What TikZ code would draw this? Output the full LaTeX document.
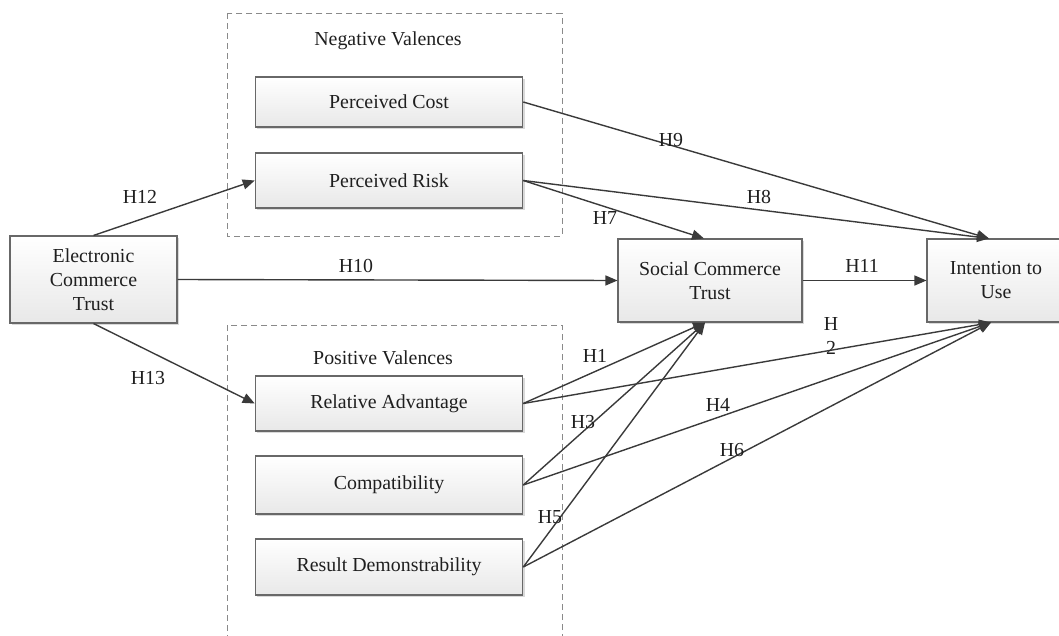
\documentclass[tikz,border=0pt]{standalone}
\usepackage{fontspec}
\setmainfont{Liberation Serif}
\usetikzlibrary{arrows.meta,shadows,calc}
\definecolor{linec}{HTML}{3A3A3A}
\definecolor{boxline}{HTML}{686868}
\definecolor{dashc}{HTML}{8A8A8A}
\tikzset{
  vbox/.style={draw=boxline, line width=0.8pt, top color=white, bottom color=black!9,
    drop shadow={shadow xshift=1.5pt, shadow yshift=-1.5pt, fill=black!25, opacity=0.6},
    align=center, inner sep=0pt, font=\fontsize{14.9}{18}\selectfont, text=black!88},
  grp/.style={draw=dashc, line width=0.6pt, dash pattern=on 4.5pt off 3pt},
  conn/.style={draw=linec, line width=1.05pt, -{Triangle[length=9pt,width=7.5pt]}},
  lbl/.style={inner sep=0pt, font=\fontsize{14.9}{18}\selectfont, text=black!88},
}
\begin{document}
\begin{tikzpicture}[x=0.75pt,y=-0.75pt]
\useasboundingbox (0,0) rectangle (1059,635);
\clip (0,0) rectangle (1059,635);
% group frames
\draw[grp] (227,13.3) rectangle (562,236);
\draw[grp] (227,325) rectangle (562,645);
\node[lbl] (neg) at (388,41) {Negative Valences};
\node[lbl] (pos) at (383,358) {Positive Valences};
% boxes
\node[vbox, minimum width=200.6pt, minimum height=37.5pt] (pc) at (389,102) {Perceived Cost};
\node[vbox, minimum width=200.6pt, minimum height=41.25pt] (pr) at (389,180.5) {Perceived Risk};
\node[vbox, minimum width=200.6pt, minimum height=41.25pt] (ra) at (389,403.5) {Relative Advantage};
\node[vbox, minimum width=200.6pt, minimum height=43.5pt] (co) at (389,485) {Compatibility};
\node[vbox, minimum width=200.6pt, minimum height=42pt] (rd) at (389,567) {Result Demonstrability};
\node[vbox, minimum width=125.25pt, minimum height=65.25pt] (ect) at (93.5,279.5) {Electronic\\Commerce\\Trust};
\node[vbox, minimum width=138pt, minimum height=62.25pt] (sct) at (710,280.5) {Social Commerce\\Trust};
\node[vbox, minimum width=103.5pt, minimum height=62.25pt] (itu) at (996,280.5) {Intention to\\Use};
% anchor points
\coordinate (sctT) at ($(sct.north)+(-6,0)$);
\coordinate (sctB) at ($(sct.south)+(-5,0)$);
\coordinate (ituT) at ($(itu.north)+(-7,0)$);
\coordinate (ituB) at ($(itu.south)+(-5,0)$);
% connectors
\draw[conn] (ect.north) -- (pr.west);
\draw[conn] (ect.south) -- (ra.west);
\draw[conn] (ect.east) -- (sct.west);
\draw[conn] (pc.east) -- (ituT);
\draw[conn] (pr.east) -- (ituT);
\draw[conn] (pr.east) -- (sctT);
\draw[conn] (sct.east) -- (itu.west);
\draw[conn] (ra.east) -- (sctB);
\draw[conn] (ra.east) -- (ituB);
\draw[conn] (co.east) -- (sctB);
\draw[conn] (co.east) -- (ituB);
\draw[conn] (rd.east) -- (sctB);
\draw[conn] (rd.east) -- (ituB);
% labels
\node[lbl] (h12) at (140,197) {H12};
\node[lbl] (h13) at (148,378) {H13};
\node[lbl] (h10) at (356,266) {H10};
\node[lbl] (h9) at (671,140) {H9};
\node[lbl] (h8) at (759,197) {H8};
\node[lbl] (h7) at (605,218) {H7};
\node[lbl] (h11) at (862,266) {H11};
\node[lbl] (h1) at (595,356) {H1};
\node[lbl, align=center, font=\fontsize{14.9}{18.5}\selectfont] (h2) at (831,336) {H\\2};
\node[lbl] (h3) at (583,422) {H3};
\node[lbl] (h4) at (718,405) {H4};
\node[lbl] (h5) at (550,517) {H5};
\node[lbl] (h6) at (732,450) {H6};
\end{tikzpicture}
\end{document}
